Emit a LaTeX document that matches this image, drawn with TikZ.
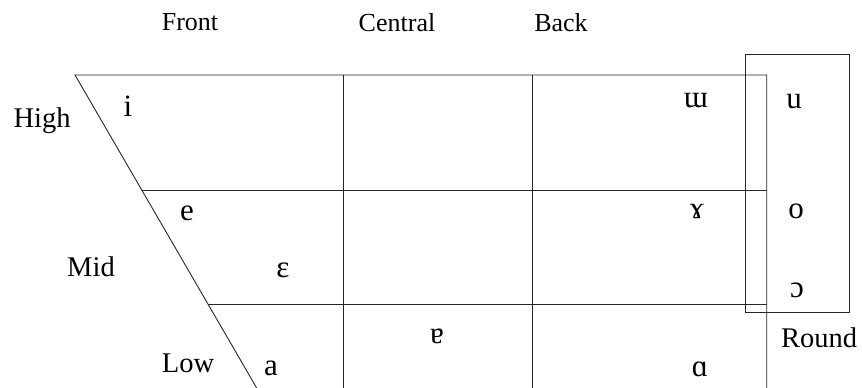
\documentclass[tikz,border=0pt]{standalone}
\usepackage{fontspec}
\setmainfont{Liberation Serif}
\begin{document}
\begin{tikzpicture}[x=1pt,y=-1pt,
  gridline/.style={draw=black!85, line width=0.9pt},
  hdr/.style={inner sep=0pt, font=\fontsize{26}{30}\selectfont},
  lbl/.style={inner sep=0pt, font=\fontsize{28.5}{32}\selectfont},
  vow/.style={inner sep=0pt, font=\fontsize{31}{35}\selectfont}]
\useasboundingbox (0,0) rectangle (862,388);
% grid coordinates
\coordinate (TL) at (75,75);
\coordinate (D1) at (142,190.5);
\coordinate (D2) at (208.3,304);
\coordinate (DB) at (256.7,388);
\coordinate (TR) at (766.7,75);
\coordinate (R1) at (766.7,190.5);
\coordinate (R2) at (766.7,304);
\coordinate (RB) at (766.7,388);
\coordinate (C1T) at (343.3,75);
\coordinate (C1B) at (343.3,388);
\coordinate (C2T) at (532.7,75);
\coordinate (C2B) at (532.7,388);
\coordinate (RdTL) at (745.7,54.7);
\coordinate (RdBR) at (849.3,312.7);
% lines
\draw[gridline] (DB) -- (TL) -- (TR) -- (RB);
\draw[gridline] (D1) -- (R1);
\draw[gridline] (D2) -- (R2);
\draw[gridline] (C1T) -- (C1B);
\draw[gridline] (C2T) -- (C2B);
\draw[gridline] (RdTL) rectangle (RdBR);
% headers
\node[hdr] (front) at (190,22.5) {Front};
\node[hdr] (central) at (397,23) {Central};
\node[hdr] (back) at (561,23) {Back};
% row labels
\node[lbl] (high) at (42,121) {High};
\node[lbl] (mid) at (91,267) {Mid};
\node[lbl] (low) at (188,363) {Low};
\node[lbl] (round) at (819,338) {Round};
% vowels
\node[vow] (vi) at (128,106) {i};
\node[vow] (ve) at (187,213) {e};
\node[vow] (veps) at (283,270) {ɛ};
\node[vow] (va) at (271,368) {a};
\node[vow] (vturna) at (437,336) {ɐ};
\node[vow] (vturnm) at (696,101) {ɯ};
\node[vow] (vu) at (794,102) {u};
\node[vow] (vrams) at (697,212) {ɤ};
\node[vow] (vo) at (796,211) {o};
\node[vow] (vopeno) at (797,290) {ɔ};
\node[vow] (vscripta) at (700,369) {ɑ};
\end{tikzpicture}
\end{document}
